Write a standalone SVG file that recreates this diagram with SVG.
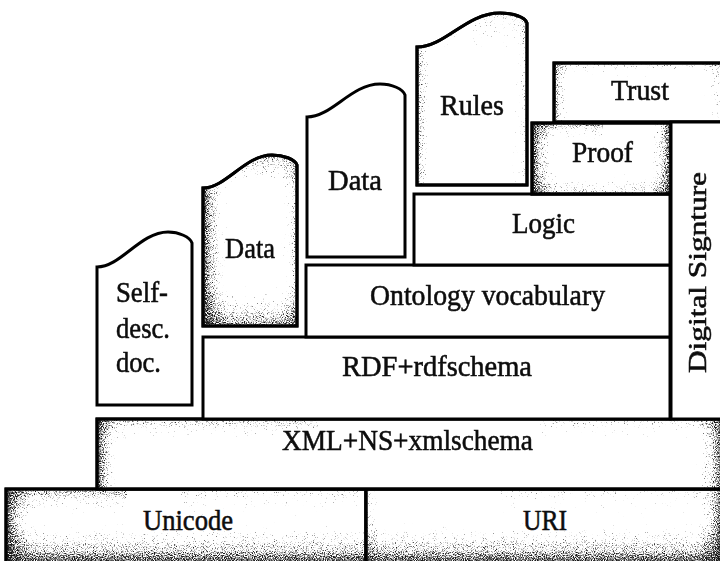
<svg xmlns="http://www.w3.org/2000/svg" width="720" height="561" viewBox="0 0 720 561">
  <style>
    .box { fill: #ffffff; stroke: #000000; stroke-width: 3; stroke-linejoin: miter; }
    .line { fill: none; stroke: #000000; stroke-width: 3; }
    .lbl { font-family: "Liberation Serif", "Times New Roman", serif; font-size: 30px; fill: #0d0d0d; stroke: #0d0d0d; stroke-width: 0.55px; }
    .shade { filter: url(#grain); }
  </style>
  <defs>
    <!-- soft edge bands; strongest at the named edge, fading inward -->
    <linearGradient id="fromLeft" x1="0" y1="0" x2="1" y2="0">
      <stop offset="0" stop-color="#000" stop-opacity="0.85"/>
      <stop offset="0.3" stop-color="#000" stop-opacity="0.5"/>
      <stop offset="1" stop-color="#000" stop-opacity="0"/>
    </linearGradient>
    <linearGradient id="fromRight" x1="1" y1="0" x2="0" y2="0">
      <stop offset="0" stop-color="#000" stop-opacity="0.85"/>
      <stop offset="0.3" stop-color="#000" stop-opacity="0.5"/>
      <stop offset="1" stop-color="#000" stop-opacity="0"/>
    </linearGradient>
    <linearGradient id="fromTop" x1="0" y1="0" x2="0" y2="1">
      <stop offset="0" stop-color="#000" stop-opacity="0.8"/>
      <stop offset="0.3" stop-color="#000" stop-opacity="0.45"/>
      <stop offset="1" stop-color="#000" stop-opacity="0"/>
    </linearGradient>
    <linearGradient id="fromBottom" x1="0" y1="1" x2="0" y2="0">
      <stop offset="0" stop-color="#000" stop-opacity="0.85"/>
      <stop offset="0.3" stop-color="#000" stop-opacity="0.5"/>
      <stop offset="1" stop-color="#000" stop-opacity="0"/>
    </linearGradient>

    <!-- stipple: threshold the shading against fine noise -->
    <filter id="grain" x="0" y="0" width="1" height="1" color-interpolation-filters="sRGB">
      <feTurbulence type="fractalNoise" baseFrequency="0.9" numOctaves="2" seed="7" result="noise"/>
      <feColorMatrix in="noise" type="matrix" values="0 0 0 0 0  0 0 0 0 0  0 0 0 0 0  1.6 0 0 0 -0.3" result="nA"/>
      <feComposite in="SourceAlpha" in2="nA" operator="arithmetic" k1="0" k2="1" k3="1" k4="-1" result="sum"/>
      <feComponentTransfer in="sum" result="dots">
        <feFuncA type="linear" slope="2.2" intercept="0"/>
      </feComponentTransfer>
      <feFlood flood-color="#1a1a1a"/>
      <feComposite in2="dots" operator="in"/>
    </filter>

    <clipPath id="clipData1"><path d="M203,326 L203,188 C226,188 245,155 272,155 C283,155 295,159 297,165 L297,326 Z"/></clipPath>
    <clipPath id="clipRules"><path d="M417,185 L417,47 C445,47 466,13 500,13 C513,13 525,17 527,23 L527,185 Z"/></clipPath>
  </defs>

  <!-- bottom row -->
  <g id="unicode">
    <rect class="box" x="6" y="489" width="360" height="76"/>
    <g class="shade">
      <rect x="7" y="490" width="26" height="72" fill="url(#fromLeft)"/>
      <rect x="7" y="522" width="358" height="40" fill="url(#fromBottom)"/>
      <rect x="7" y="490" width="120" height="26" fill="url(#fromTop)" opacity="0.75"/>
      <rect x="180" y="490" width="180" height="30" fill="url(#fromTop)" opacity="0.4"/>
    </g>
    <rect class="line" x="6" y="489" width="360" height="76"/>
    <text class="lbl" x="143" y="530" textLength="90" lengthAdjust="spacingAndGlyphs">Unicode</text>
  </g>

  <g id="uri">
    <rect class="box" x="366" y="489" width="358" height="76"/>
    <g class="shade">
      <rect x="367" y="522" width="356" height="40" fill="url(#fromBottom)"/>
      <rect x="696" y="490" width="26" height="72" fill="url(#fromRight)"/>
      <rect x="367" y="490" width="14" height="72" fill="url(#fromLeft)" opacity="0.5"/>
      <rect x="500" y="490" width="200" height="28" fill="url(#fromTop)" opacity="0.35"/>
    </g>
    <rect class="line" x="366" y="489" width="358" height="76"/>
    <text class="lbl" x="523" y="530" textLength="44" lengthAdjust="spacingAndGlyphs">URI</text>
  </g>

  <g id="xml">
    <rect class="box" x="97" y="419" width="627" height="70"/>
    <g class="shade">
      <rect x="98" y="420" width="22" height="68" fill="url(#fromLeft)"/>
      <rect x="98" y="420" width="220" height="22" fill="url(#fromTop)" opacity="0.6"/>
      <rect x="696" y="420" width="26" height="68" fill="url(#fromRight)"/>
      <rect x="540" y="420" width="180" height="20" fill="url(#fromTop)" opacity="0.45"/>
    </g>
    <rect class="line" x="97" y="419" width="627" height="70"/>
    <text class="lbl" x="282" y="450" textLength="251" lengthAdjust="spacingAndGlyphs">XML+NS+xmlschema</text>
  </g>

  <!-- stacked layers -->
  <g id="rdf">
    <rect class="box" x="203" y="337" width="467" height="82"/>
    <text class="lbl" x="342" y="376" textLength="190" lengthAdjust="spacingAndGlyphs">RDF+rdfschema</text>
  </g>

  <g id="ontology">
    <rect class="box" x="306" y="265" width="364" height="72"/>
    <text class="lbl" x="370" y="305" textLength="235" lengthAdjust="spacingAndGlyphs">Ontology vocabulary</text>
  </g>

  <g id="logic">
    <rect class="box" x="414" y="194" width="256" height="71"/>
    <text class="lbl" x="512" y="233" textLength="63" lengthAdjust="spacingAndGlyphs">Logic</text>
  </g>

  <g id="proof">
    <rect class="box" x="532" y="123" width="139" height="71"/>
    <g class="shade">
      <rect x="533" y="124" width="22" height="69" fill="url(#fromLeft)"/>
      <rect x="650" y="124" width="20" height="69" fill="url(#fromRight)"/>
      <rect x="533" y="124" width="70" height="18" fill="url(#fromTop)" opacity="0.7"/>
      <rect x="533" y="172" width="137" height="21" fill="url(#fromBottom)" opacity="0.55"/>
    </g>
    <rect class="line" x="532" y="123" width="139" height="71"/>
    <text class="lbl" x="572" y="162" textLength="61" lengthAdjust="spacingAndGlyphs">Proof</text>
  </g>

  <g id="trust">
    <rect class="box" x="554" y="63" width="170" height="59"/>
    <g class="shade">
      <rect x="555" y="64" width="16" height="57" fill="url(#fromLeft)" opacity="0.75"/>
      <rect x="555" y="64" width="167" height="14" fill="url(#fromTop)" opacity="0.45"/>
      <rect x="704" y="64" width="18" height="57" fill="url(#fromRight)" opacity="0.45"/>
    </g>
    <rect class="line" x="554" y="63" width="170" height="59"/>
    <text class="lbl" x="611" y="100" textLength="58" lengthAdjust="spacingAndGlyphs">Trust</text>
  </g>

  <g id="digital-signature">
    <rect class="box" x="671" y="122" width="53" height="297"/>
    <text class="lbl" x="-373" y="706" transform="rotate(-90)" style="font-size:25px" textLength="201" lengthAdjust="spacingAndGlyphs">Digital Signture</text>
  </g>

  <!-- document tabs -->
  <g id="self-desc-doc">
    <path class="box" d="M97,405 L97,267 C121,267 140,232 168,232 C179,232 190,237 192,243 L192,405 Z"/>
    <text class="lbl" x="116" y="302" textLength="52" lengthAdjust="spacingAndGlyphs">Self-</text>
    <text class="lbl" x="116" y="338" textLength="54" lengthAdjust="spacingAndGlyphs">desc.</text>
    <text class="lbl" x="116" y="372" textLength="45" lengthAdjust="spacingAndGlyphs">doc.</text>
  </g>

  <g id="data-1">
    <path class="box" d="M203,326 L203,188 C226,188 245,155 272,155 C283,155 295,159 297,165 L297,326 Z"/>
    <g clip-path="url(#clipData1)">
      <g class="shade">
        <rect x="204" y="150" width="24" height="175" fill="url(#fromLeft)"/>
        <rect x="204" y="150" width="92" height="36" fill="url(#fromTop)"/>
        <rect x="204" y="285" width="92" height="40" fill="url(#fromBottom)" opacity="0.8"/>
        <rect x="280" y="150" width="16" height="175" fill="url(#fromRight)" opacity="0.55"/>
      </g>
    </g>
    <path class="line" d="M203,326 L203,188 C226,188 245,155 272,155 C283,155 295,159 297,165 L297,326 Z"/>
    <text class="lbl" x="225" y="258" textLength="50" lengthAdjust="spacingAndGlyphs">Data</text>
  </g>

  <g id="data-2">
    <path class="box" d="M307,257 L307,117 C332,117 351,84 380,84 C392,84 403,89 405,95 L405,257 Z"/>
    <text class="lbl" x="328" y="190" textLength="54" lengthAdjust="spacingAndGlyphs">Data</text>
  </g>

  <g id="rules">
    <path class="box" d="M417,185 L417,47 C445,47 466,13 500,13 C513,13 525,17 527,23 L527,185 Z"/>
    <g clip-path="url(#clipRules)">
      <g class="shade">
        <rect x="418" y="10" width="14" height="174" fill="url(#fromLeft)" opacity="0.7"/>
        <rect x="418" y="10" width="108" height="44" fill="url(#fromTop)" opacity="0.5"/>
        <rect x="512" y="10" width="14" height="174" fill="url(#fromRight)" opacity="0.4"/>
      </g>
    </g>
    <path class="line" d="M417,185 L417,47 C445,47 466,13 500,13 C513,13 525,17 527,23 L527,185 Z"/>
    <text class="lbl" x="440" y="115" textLength="64" lengthAdjust="spacingAndGlyphs">Rules</text>
  </g>

  <!-- no connectors in this layer stack -->
  <g id="connectors"/>
</svg>
